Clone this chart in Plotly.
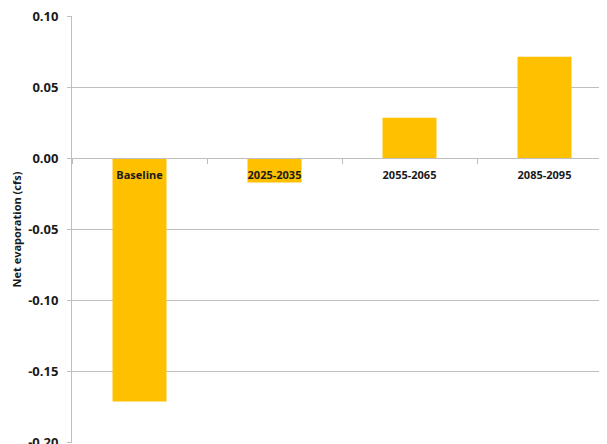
import plotly.graph_objects as go

categories = ["Baseline", "2025-2035", "2055-2065", "2085-2095"]
net_evaporation = [-0.171, -0.017, 0.0285, 0.0714]
y_ticks = [0.10, 0.05, 0.00, -0.05, -0.10, -0.15, -0.20]
y_tick_labels = ["0.10", "0.05", "0.00", "-0.05", "-0.10", "-0.15", "-0.20"]

fig = go.Figure(
    go.Bar(
        x=categories,
        y=net_evaporation,
        marker=dict(color="#FFC000", line=dict(width=0)),
        width=0.4,
    )
)

grid = "#BEBEBE"
# page body has an 8px default margin, so the figure is offset by 8px
fig.update_layout(
    width=599,
    height=436,
    margin=dict(l=64, r=0, t=8, b=1, autoexpand=False),
    paper_bgcolor="white",
    plot_bgcolor="white",
    showlegend=False,
    font=dict(family="Open Sans", size=12, color="#1a1a1a"),
    xaxis=dict(
        type="category",
        range=[-0.5, 3.463],
        anchor="free",
        position=2 / 3,
        automargin=False,
        showline=True,
        linecolor=grid,
        linewidth=1,
        ticks="outside",
        tickson="boundaries",
        ticklen=5,
        tickcolor=grid,
        showgrid=False,
        tickfont=dict(family="Open Sans", size=11, color="#1a1a1a", weight="bold"),
        ticklabelstandoff=6,
        layer="above traces",
    ),
    yaxis=dict(
        range=[-0.2001, 0.1001],
        tickvals=y_ticks,
        ticktext=y_tick_labels,
        automargin=False,
        ticklabeloverflow="allow",
        showgrid=True,
        gridcolor=grid,
        gridwidth=1,
        zeroline=False,
        showline=True,
        linecolor=grid,
        ticks="outside",
        ticklen=4,
        tickcolor=grid,
        tickfont=dict(family="Open Sans", size=13, color="#1a1a1a", weight="bold"),
        ticklabelstandoff=6,
        title=dict(
            text="Net evaporation (cfs)",
            font=dict(family="Open Sans", size=11, color="#1a1a1a", weight="bold"),
            standoff=4,
        ),
    ),
)

fig.write_html("out.html")
